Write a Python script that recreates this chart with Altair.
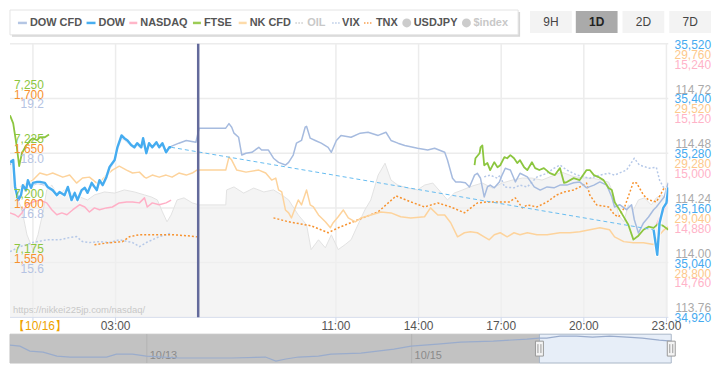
import altair as alt
import pandas as pd

FONT = "Liberation Sans"
W, H = 662, 275
X_DOM = [-50, 1384]          # minutes from 10/16 00:00
DOM = {
    "DOW": [34920, 35520], "NK": [28560, 29760], "NASDAQ": [14640, 15240],
    "USDJPY": [113.76, 114.96], "FTSE": [7150, 7275], "TNX": [1.50, 1.75], "VIX": [14.4, 20.4],
}

# ---------------- data (minutes, value) ----------------
dow_t1 = [-50,-43,-39,-32,-26,-22,-15,-11,-4,0,9,15,26,32,43,52,58,69,76,84,91,97,106,113,119,128,139,145,152,160,
          167,178,184,193,199,206,214,221,227,236,240,247,253,260,269,275,282,290,297,301]
dow_v1 = [35260,35265,35206,35177,35188,35210,35199,35221,35204,35215,35217,35217,35215,35206,35199,35188,35195,35188,35206,35177,
          35193,35177,35199,35204,35193,35215,35199,35221,35210,35228,35250,35265,35293,35319,35313,35308,35298,35293,35302,35293,
          35313,35280,35302,35293,35304,35293,35302,35282,35293,35293]
dow_t2 = [1352,1360,1365,1373,1380,1384]
dow_v2 = [35112,35057,35127,35160,35171,35205]

cfd_t = dow_t1 + [318,334,355,362,420,427,433,438,448,455,464,477,492,498,513,524,535,550,557,567,
                  574,585,593,596,604,615,628,643,650,661,671,693,713,730,752,769,780,795,810,838,
                  860,875,897,903,914,921,931,942,951,962,968,975,983,990,996,1005,1016,1022,1029,1040,
                  1051,1061,1077,1092,1105,1120,1135,1148,1163,1178,1191,1206,1222,1235,1250,1261,1267,1278,1293,1304,
                  1310,1319,1330,1341,1352,1358,1365,1375,1384]
cfd_v = [35255,35262,35210,35182,35190,35206,35197,35215,35202,35210,35214,35213,35210,35204,35196,35190,35194,35190,35203,35182,
         35192,35180,35196,35202,35194,35210,35200,35217,35208,35224,35246,35262,35288,35313,35310,35304,35296,35291,35298,35291,
         35308,35282,35298,35292,35300,35292,35298,35285,35292,35295,
         35302,35308,35304,35335,35335,35345,35337,35324,35315,35276,35280,35282,35293,35287,35287,35269,35260,35254,35260,35276,
         35302,35308,35337,35339,35313,35308,35302,35293,35282,35308,35319,35315,35324,35326,35319,35326,35308,35302,35297,35291,
         35287,35291,35282,35265,35225,35217,35217,35215,35206,35232,35236,35225,35184,35206,35210,35204,35217,35232,35247,35243,
         35217,35236,35228,35206,35199,35206,35204,35210,35210,35215,35217,35204,35210,35217,35210,35184,35162,35167,35156,35167,
         35134,35105,35127,35140,35156,35162,35171,35184,35215]

nq_t1 = [-50,-39,-32,-24,-13,0,15,30,41,52,63,74,87,102,113,123,134,145,160,173,188,204,217,232,243,249,260,275,290,301]
nq_v1 = [14869,14865,14860,14869,14887,14893,14897,14891,14876,14865,14869,14865,14876,14887,14882,14871,14880,14876,14880,14882,
         14891,14893,14893,14891,14902,14882,14891,14887,14891,14897]
nq_t2 = [1358,1365,1373,1380,1384]
nq_v2 = [14843,14858,14871,14887,14897]

ftse_t1 = [-50,-43,-35,-30,-24,-17,-6,0,9,15,26,35]
ftse_v1 = [7242.3,7238.6,7227.7,7219.1,7225.0,7227.7,7230.9,7231.8,7230.9,7232.3,7232.3,7233.6]
ftse_t2 = [962,964,973,975,979,983,990,996,1005,1012,1018,1027,1033,1040,1048,1055,1061,1070,1077,1087,
           1094,1103,1113,1126,1137,1148,1157,1163,1178,1191,1206,1213,1222,1232,1243,1254,1261,1267,1278,1287,
           1297,1308,1319,1330,1341,1352,1362,1373,1384]
ftse_v2 = [7219.5,7222.7,7225.0,7227.7,7228.6,7219.5,7220.5,7217.3,7220.9,7218.6,7219.5,7223.2,7222.7,7224.1,7222.7,7220.5,
           7221.8,7218.6,7217.3,7220.9,7218.2,7217.3,7218.2,7215.9,7215.0,7218.2,7211.4,7211.8,7213.6,7212.7,7217.3,7217.3,
           7215.0,7214.1,7212.7,7209.1,7208.2,7202.7,7199.1,7195.9,7192.3,7185.5,7187.3,7190.0,7191.4,7190.9,7192.7,7191.8,7190.0]

nk_t = [-28,0,15,30,43,65,80,95,108,123,139,145,160,173,188,204,217,232,243,247,260,275,290,303,318,334,347,357,420,427,
        433,444,464,492,507,520,529,535,542,550,557,563,572,578,585,596,604,611,622,637,648,654,665,676,687,702,715,736,758,780,
        801,823,853,866,882,897,910,925,940,953,968,983,994,1005,1018,1033,1048,1061,1077,1098,1120,1148,1170,1191,1213,1235,
        1256,1267,1287,1308,1330,1352,1365,1375,1384]
nk_v = [29132,29162,29193,29184,29193,29175,29184,29149,29171,29175,29149,29149,29184,29206,29223,29206,29193,29197,29175,29171,
        29184,29175,29184,29175,29193,29184,29193,29206,29206,29263,29250,29206,29197,29206,29193,29162,29171,29119,29110,29031,
        29018,28996,29044,29075,29053,29119,29053,29044,29009,28979,28953,28975,29001,29031,28996,28979,28996,29009,29022,29018,
        29001,28996,29001,29040,29009,29009,28975,28913,28931,28935,28931,28913,28900,28922,28931,28913,28931,28922,28931,28922,
        28922,28931,28931,28935,28944,28953,28944,28913,28892,28887,28887,28879,28922,28944,28957]

tnx_t1 = [134,167,195,210,232,260,303,334,357]
tnx_v1 = [1.5664,1.5682,1.5691,1.5736,1.5755,1.5755,1.5755,1.5746,1.5736]
tnx_t2 = [524,557,606,643,665,708,752,791,823,853,882,910,940,968,990,1018,1038,1051,1066,1077,
          1098,1120,1141,1157,1178,1191,1206,1213,1228,1254,1267,1276,1289,1308,1315,1330,1341,1358,1369,1375,1384]
tnx_v2 = [1.5909,1.5873,1.5836,1.5773,1.5818,1.5891,1.5964,1.6109,1.6055,1.6009,1.6045,1.6009,1.5955,1.6045,1.6055,1.6055,
          1.6055,1.6091,1.6000,1.6027,1.6009,1.6055,1.6118,1.6145,1.6164,1.6191,1.6227,1.6118,1.6027,1.6009,1.5936,1.5918,
          1.6009,1.6236,1.6227,1.6118,1.6073,1.6055,1.6136,1.6182,1.6164]

vix_t1 = [-50,-28,0,30,58,80,95,108,123,145,167,188,217,232,247,260,275,290,301]
vix_v1 = [15.84,15.95,16.04,16.10,16.10,16.15,16.17,16.06,16.04,16.06,16.04,16.10,16.04,15.95,16.04,16.10,16.17,16.21,16.25]
vix_t2 = [983,996,1012,1018,1027,1048,1061,1077,1098,1120,1135,1148,1163,1185,1213,1235,1254,1267,1293,1310,
          1321,1343,1358,1365,1373,1384]
vix_v2 = [17.48,17.52,17.45,17.52,17.26,17.24,17.30,17.26,17.48,17.56,17.67,17.74,17.63,17.52,17.45,17.52,17.56,17.52,17.63,17.89,
          17.74,17.67,17.69,17.41,17.26,17.19]

usd_t = [-50,-41,-32,-24,-13,0,11,22,30,41,54,69,84,102,119,134,156,178,199,221,243,258,271,282,292,301,314,329,347,362,
         420,422,438,459,481,503,524,542,557,578,596,606,622,637,650,665,680,693,708,723,736,752,767,780,795,817,838,853,871,888,
         903,918,936,957,979,1001,1022,1044,1066,1087,1109,1131,1152,1174,1196,1217,1239,1254,1265,1276,1287,1297,1308,1319,1332,
         1347,1358,1369,1384]
usd_v = [114.449,114.406,114.275,114.231,114.122,114.057,114.122,114.223,114.319,114.340,114.297,114.319,114.305,114.288,114.275,
         114.297,114.310,114.305,114.319,114.310,114.297,114.288,114.275,114.223,114.179,114.209,114.275,114.284,114.262,114.253,
         114.253,114.319,114.332,114.305,114.327,114.310,114.319,114.297,114.275,114.209,114.166,114.057,114.100,114.065,114.122,
         114.057,114.079,114.100,114.166,114.231,114.275,114.384,114.436,114.362,114.340,114.327,114.319,114.340,114.349,114.310,
         114.275,114.305,114.319,114.336,114.349,114.327,114.349,114.362,114.371,114.371,114.362,114.380,114.397,114.380,114.371,
         114.371,114.362,114.353,114.297,114.209,114.179,114.253,114.231,114.275,114.284,114.253,114.284,114.297,114.275]

session_mark_t = [360]

# navigator overview (hours from 10/16 00:00, DOW)
nav_t = [-96.8,-95.0,-93.2,-90.8,-88.3,-85.9,-82.9,-79.3,-77.5,-74.6,-72.1,-66.1,-56.6,-50.5,-48.6,-46.8,-44.5,-40.9,-38.6,-33.2,
         -27.2,-24.1,-19.3,-15.1,-9.2,-3.1,-0.9,0.5,2.9,5.9,8.8,11.9,15.0,17.8,20.9,23.06]
nav_v = [35059,35028,34873,34842,34718,34687,34687,34687,34780,34780,34718,34656,34656,34687,34563,34625,34687,34718,34780,34811,
         34935,35028,35090,35152,35183,35245,35276,35276,35338,35338,35307,35338,35307,35276,35214,35183]
nav_days = [-72, -24]
nav_day_labels = ["10/13", "10/15"]

# axis ticks
x_ticks = [0, 180, 660, 840, 1020, 1200, 1380]
x_labels = ["【10/16】", "03:00", "11:00", "14:00", "17:00", "20:00", "23:00"]
grid_dow = [35520, 35400, 35280, 35160, 35040]
usd_ticks = [114.72, 114.48, 114.24, 114.00, 113.76]
dow_ticks = [35520, 35400, 35280, 35160, 35040, 34920]
nk_ticks = [29760, 29520, 29280, 29040, 28800]
nq_ticks = [15240, 15120, 15000, 14880, 14760]
ftse_ticks = [7250, 7225, 7200, 7175]
tnx_ticks = [1.700, 1.650, 1.600, 1.550]
vix_ticks = [19.2, 18.0, 16.8, 15.6]

legend_names = ["DOW CFD", "DOW", "NASDAQ", "FTSE", "NK CFD", "OIL", "VIX", "TNX", "USDJPY", "$index"]
buttons = ["9H", "1D", "2D", "7D"]


# ---------------- helpers ----------------
def seg_df(*segs):
    return pd.concat([pd.DataFrame({"t": t, "v": v, "seg": i}) for i, (t, v) in enumerate(segs)], ignore_index=True)


def X(field="t"):
    return alt.X(f"{field}:Q", scale=alt.Scale(domain=X_DOM), axis=None)


def Y(key, field="v"):
    return alt.Y(f"{field}:Q", scale=alt.Scale(domain=DOM[key]), axis=None)


def line(df, key, color, width, dash=None, opacity=1.0):
    kw = dict(color=color, strokeWidth=width, opacity=opacity, clip=True, strokeJoin="round")
    if dash:
        kw["strokeDash"] = dash
    return alt.Chart(df).mark_line(**kw).encode(x=X(), y=Y(key), detail="seg:N")


one = pd.DataFrame({"a": [0]})
PX = dict(scale=None)

layers = []

# grid
layers.append(alt.Chart(pd.DataFrame({"v": grid_dow})).mark_rule(color="#ececec", strokeWidth=1.5)
              .encode(y=Y("DOW"), x=alt.value(0), x2=alt.value(W)))
layers.append(alt.Chart(pd.DataFrame({"t": x_ticks})).mark_rule(color="#ececec", strokeWidth=1.5)
              .encode(x=X(), y=alt.value(0), y2=alt.value(H)))
layers.append(alt.Chart(pd.DataFrame({"t": x_ticks})).mark_rule(color="#ccd6eb", strokeWidth=1)
              .encode(x=X(), y=alt.value(H), y2=alt.value(H + 5)))
layers.append(alt.Chart(one).mark_rule(color="#ccd6eb", strokeWidth=1)
              .encode(x=alt.value(0), x2=alt.value(W), y=alt.value(H)))

# USDJPY area
layers.append(alt.Chart(pd.DataFrame({"t": usd_t, "v": usd_v}))
              .mark_area(color="#efefef", line={"color": "#e2e2e2", "strokeWidth": 1}, clip=True)
              .encode(x=X(), y=Y("USDJPY"), y2=alt.value(H)))

# series
layers.append(line(seg_df((vix_t1, vix_v1), (vix_t2, vix_v2)), "VIX", "#b5c8e8", 1.5, dash=[2, 2]))
layers.append(line(seg_df((tnx_t1, tnx_v1), (tnx_t2, tnx_v2)), "TNX", "#f7922e", 1.5, dash=[2, 2]))
layers.append(line(seg_df((nq_t1, nq_v1), (nq_t2, nq_v2)), "NASDAQ", "#ffafc6", 1.5))
layers.append(line(seg_df((nk_t, nk_v)), "NK", "#fdd39c", 1.5))
layers.append(line(seg_df((cfd_t, cfd_v)), "DOW", "#a6bbdf", 1.5))
layers.append(line(seg_df((ftse_t1, ftse_v1), (ftse_t2, ftse_v2)), "FTSE", "#8cc63f", 1.8))
layers.append(line(seg_df(([dow_t1[-1], dow_t2[0]], [dow_v1[-1], dow_v2[0]])), "DOW", "#66bbf0", 1, dash=[4, 3]))
dow_df = seg_df((dow_t1, dow_v1), (dow_t2, dow_v2))
layers.append(line(dow_df, "DOW", "white", 4.5, opacity=0.7))
layers.append(line(dow_df, "DOW", "#45acf0", 2.4))

# session marker
layers.append(alt.Chart(pd.DataFrame({"t": session_mark_t})).mark_rule(color="#636a9b", strokeWidth=2.5)
              .encode(x=X(), y=alt.value(0), y2=alt.value(H)))

# watermark
layers.append(alt.Chart(one).mark_text(align="left", fontSize=9.5, font=FONT, color="#c8c8c8")
              .encode(x=alt.value(3), y=alt.value(268), text=alt.value("https://nikkei225jp.com/nasdaq/")))

# axis labels
def tick_layer(key, vals, labs, color, dy, xpos):
    df = pd.DataFrame({"v": vals, "lab": labs})
    return (alt.Chart(df).mark_text(align="right", baseline="middle", dy=dy, fontSize=12, font=FONT, color=color)
            .encode(x=alt.value(xpos), y=Y(key), text="lab:N"))


layers.append(tick_layer("USDJPY", usd_ticks, [f"{v:.2f}" for v in usd_ticks], "#aaaaaa", -9, 705))
layers.append(tick_layer("DOW", dow_ticks, [f"{v:,.0f}" for v in dow_ticks], "#45aaf0", 1, 705))
layers.append(tick_layer("NK", nk_ticks, [f"{v:,.0f}" for v in nk_ticks], "#fdc98c", 11, 705))
layers.append(tick_layer("NASDAQ", nq_ticks, [f"{v:,.0f}" for v in nq_ticks], "#ffb3c8", 21, 705))
layers.append(tick_layer("FTSE", ftse_ticks, [f"{v:,.0f}" for v in ftse_ticks], "#8cc63f", -14, 34))
layers.append(tick_layer("TNX", tnx_ticks, [f"{v:.3f}".replace(".", ",") for v in tnx_ticks], "#f7922e", -4, 34))
layers.append(tick_layer("VIX", vix_ticks, [f"{v:.1f}" for v in vix_ticks], "#b5c3e3", 6, 34))

# x labels
xl = pd.DataFrame({"t": x_ticks, "lab": x_labels})
layers.append(alt.Chart(xl.iloc[1:]).mark_text(fontSize=12, font=FONT, baseline="middle", color="#555555")
              .encode(x=X(), y=alt.value(284), text="lab:N"))
layers.append(alt.Chart(xl.iloc[:1]).mark_text(fontSize=12, font=FONT, baseline="middle", align="left",
                                               dx=-20, color="#eea200")
              .encode(x=X(), y=alt.value(284), text="lab:N"))

# legend box
layers.append(alt.Chart(one).mark_rect(color="#d6d6d6")
              .encode(x=alt.value(2), x2=alt.value(513), y=alt.value(-32), y2=alt.value(-7)))
layers.append(alt.Chart(one).mark_rect(fill="white", stroke="#e4e4e4", strokeWidth=1)
              .encode(x=alt.value(0), x2=alt.value(511), y=alt.value(-34), y2=alt.value(-9)))
leg = pd.DataFrame({
    "name": legend_names,
    "tx": [20, 89, 131, 195, 241, 299, 334, 368, 406, 466],
    "x1": [8, 77, 120, 184, 230, 287, 324, 356, 0, 0],
    "x2": [17, 86, 128, 192, 238, 296, 333, 365, 0, 0],
    "c": ["#b4c6e4", "#48aef0", "#ffb6c8", "#9ccc55", "#fddba9", "#cccccc", "#b8cae6", "#f8a050", "#cccccc", "#cccccc"],
    "tc": ["#555555"] * 5 + ["#c8c8c8", "#555555", "#555555", "#555555", "#c8c8c8"],
    "kind": ["solid"] * 5 + ["dot", "dot", "dot", "circle", "circle"],
})
leg["cx"] = leg["tx"] - 7
layers.append(alt.Chart(leg[leg.kind == "solid"]).mark_rule(strokeWidth=2.5)
              .encode(x=alt.X("x1:Q", **PX), x2="x2:Q", y=alt.value(-21), color=alt.Color("c:N", scale=None)))
layers.append(alt.Chart(leg[leg.kind == "dot"]).mark_rule(strokeWidth=1.5, strokeDash=[1.5, 1.5])
              .encode(x=alt.X("x1:Q", **PX), x2="x2:Q", y=alt.value(-21), color=alt.Color("c:N", scale=None)))
layers.append(alt.Chart(leg[leg.kind == "circle"]).mark_circle(size=80, opacity=1)
              .encode(x=alt.X("cx:Q", **PX), y=alt.value(-21), color=alt.Color("c:N", scale=None)))
layers.append(alt.Chart(leg).mark_text(align="left", baseline="middle", fontSize=11, fontWeight="bold", font=FONT)
              .encode(x=alt.X("tx:Q", **PX), y=alt.value(-21), text="name:N", color=alt.Color("tc:N", scale=None)))

# range buttons
btn = pd.DataFrame({"lab": buttons, "x1": [523, 569, 616, 663], "x2": [565, 611, 658, 705],
                    "fill": ["#f3f3f3", "#aaaaaa", "#f3f3f3", "#f3f3f3"]})
btn["xc"] = (btn.x1 + btn.x2) / 2
layers.append(alt.Chart(btn).mark_rect()
              .encode(x=alt.X("x1:Q", **PX), x2="x2:Q", y=alt.value(-33), y2=alt.value(-11),
                      color=alt.Color("fill:N", scale=None)))
layers.append(alt.Chart(btn[btn.lab != "1D"]).mark_text(fontSize=12, font=FONT, color="#444444")
              .encode(x=alt.X("xc:Q", **PX), y=alt.value(-22), text="lab:N"))
layers.append(alt.Chart(btn[btn.lab == "1D"]).mark_text(fontSize=12, font=FONT, fontWeight="bold", color="#222222")
              .encode(x=alt.X("xc:Q", **PX), y=alt.value(-22), text="lab:N"))

# navigator
NAVX = alt.Scale(domain=[nav_t[0], nav_t[-1]], range=[0, 665])
NAVY = alt.Scale(domain=[34500, 35400], range=[321, 292])
win = X_DOM[0] / 60
nav_reg = pd.DataFrame({"t1": [nav_t[0], win], "t2": [win, nav_t[-1]], "fill": ["#c2c2c2", "#e7eef8"],
                        "stroke": ["#c2c2c2", "#a9b6c8"]})
layers.append(alt.Chart(nav_reg).mark_rect(strokeWidth=1)
              .encode(x=alt.X("t1:Q", scale=NAVX, axis=None), x2="t2:Q", y=alt.value(292), y2=alt.value(321),
                      color=alt.Color("fill:N", scale=None), stroke=alt.Stroke("stroke:N", scale=None)))
layers.append(alt.Chart(pd.DataFrame({"t": nav_days})).mark_rule(color="#b3b3b3", strokeWidth=1)
              .encode(x=alt.X("t:Q", scale=NAVX, axis=None), y=alt.value(292), y2=alt.value(321)))
layers.append(alt.Chart(pd.DataFrame({"t": nav_days, "lab": nav_day_labels}))
              .mark_text(align="left", dx=3, fontSize=11, font=FONT, color="#8a8a8a")
              .encode(x=alt.X("t:Q", scale=NAVX, axis=None), y=alt.value(314), text="lab:N"))
layers.append(alt.Chart(pd.DataFrame({"t": nav_t, "v": nav_v})).mark_line(color="#9aaccc", strokeWidth=1.2)
              .encode(x=alt.X("t:Q", scale=NAVX, axis=None), y=alt.Y("v:Q", scale=NAVY, axis=None)))
hd = pd.DataFrame({"t": [win, nav_t[-1]]})
layers.append(alt.Chart(hd).mark_rect(xOffset=-4, x2Offset=4, fill="#f4f4f4", stroke="#999999", strokeWidth=1)
              .encode(x=alt.X("t:Q", scale=NAVX, axis=None), x2="t:Q", y=alt.value(299), y2=alt.value(314)))
for off in (-1.5, 1.5):
    layers.append(alt.Chart(hd).mark_rule(xOffset=off, color="#999999", strokeWidth=1)
                  .encode(x=alt.X("t:Q", scale=NAVX, axis=None), y=alt.value(302), y2=alt.value(311)))

chart = (alt.layer(*layers)
         .resolve_scale(x="independent", y="independent")
         .properties(width=W, height=H, background="white",
                     padding={"left": 2, "top": 35, "right": 50, "bottom": 54},
                     autosize=alt.AutoSizeParams(type="none"))
         .configure_view(stroke=None))

chart.save("out.html", embed_options={"renderer": "svg", "actions": False})
